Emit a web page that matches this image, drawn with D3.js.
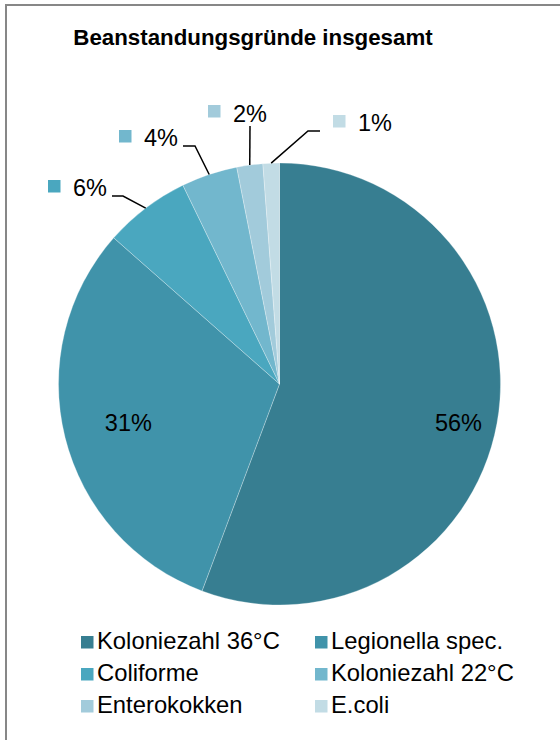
<!DOCTYPE html>
<html>
<head>
<meta charset="utf-8">
<script src="https://cdn.jsdelivr.net/npm/d3@7/dist/d3.min.js"></script>
<style>
  html, body { margin: 0; padding: 0; background: #fff; }
  svg { display: block; font-family: "Liberation Sans", Arial, sans-serif; }
</style>
</head>
<body>
<svg id="chart" width="560" height="740"></svg>
<script>
// ---- data ----
const categories = ["Koloniezahl 36°C", "Legionella spec.", "Coliforme", "Koloniezahl 22°C", "Enterokokken", "E.coli"];
const values = [55.7, 30.8, 6.3, 4.1, 1.9, 1.2];
const labels = ["56%", "31%", "6%", "4%", "2%", "1%"];
const colors = ["#377E91", "#4093AA", "#4AA7BF", "#72B7CD", "#A2CBDB", "#C2DCE5"];
const title = "Beanstandungsgründe insgesamt";

// ---- layout ----
const W = 560, H = 740;
const cx = 279.5, cy = 384, R = 221;

const svg = d3.select("#chart");

// frame
svg.append("rect")
  .attr("x", 6).attr("y", 5)
  .attr("width", W).attr("height", H)
  .attr("fill", "#fff")
  .attr("stroke", "#878787").attr("stroke-width", 2);

// title
svg.append("text")
  .attr("x", 253).attr("y", 45)
  .attr("text-anchor", "middle")
  .attr("font-size", 22.3).attr("font-weight", "bold")
  .attr("fill", "#000")
  .text(title);

const pie = d3.pie().sort(null).value(d => d)(values);
const arc = d3.arc().innerRadius(0).outerRadius(R);

const g = svg.append("g").attr("transform", `translate(${cx},${cy})`);

g.selectAll("path.slice")
  .data(pie)
  .join("path")
  .attr("class", "slice")
  .attr("d", arc)
  .attr("fill", (d, i) => colors[i])
  .attr("stroke", "#ffffff")
  .attr("stroke-opacity", 0.35)
  .attr("stroke-width", 0.8);

// inside labels (first two slices): radius fraction + vertical tweak
const insideLayout = [
  { i: 0, rf: 0.823, dy: 6.5 },
  { i: 1, rf: 0.705, dy: 1 }
];
insideLayout.forEach(L => {
  const d = pie[L.i];
  const a = (d.startAngle + d.endAngle) / 2;
  const rr = R * L.rf;
  g.append("text")
    .attr("x", rr * Math.sin(a))
    .attr("y", -rr * Math.cos(a) + L.dy)
    .attr("text-anchor", "middle")
    .attr("dominant-baseline", "central")
    .attr("font-size", 23.5)
    .attr("fill", "#000")
    .text(labels[L.i]);
});

// outside labels with leader lines: elbow / end / label anchor offsets (page coords)
const outsideLayout = [
  { i: 2, elbow: [123, 196], end: [112, 196], key: [48, 180], textX: 73, base: 196 },
  { i: 3, elbow: [195, 146], end: [183, 146], key: [119, 130], textX: 144, base: 146 },
  { i: 4, elbow: null, end: [250, 126], key: [208, 105], textX: 233, base: 122 },
  { i: 5, elbow: [308, 131], end: [320, 131], key: [333, 115], textX: 358, base: 131 }
];
outsideLayout.forEach(L => {
  const d = pie[L.i];
  const a = (d.startAngle + d.endAngle) / 2;
  const sx = cx + R * Math.sin(a), sy = cy - R * Math.cos(a);
  const pts = [[sx, sy]];
  if (L.elbow) pts.push(L.elbow);
  pts.push(L.end);
  svg.append("path")
    .attr("d", d3.line()(pts))
    .attr("fill", "none")
    .attr("stroke", "#000")
    .attr("stroke-width", 1.5);
  svg.append("rect")
    .attr("x", L.key[0]).attr("y", L.key[1])
    .attr("width", 12.5).attr("height", 12.5)
    .attr("fill", colors[L.i]);
  svg.append("text")
    .attr("x", L.textX).attr("y", L.base)
    .attr("font-size", 23.5)
    .attr("fill", "#000")
    .text(labels[L.i]);
});

// legend
const legX = [81, 315], legY = [649, 681, 713];
categories.forEach((c, i) => {
  const col = i % 2, row = Math.floor(i / 2);
  const lg = svg.append("g");
  lg.append("rect")
    .attr("x", legX[col]).attr("y", legY[row] - 13)
    .attr("width", 12.5).attr("height", 12.5)
    .attr("fill", colors[i]);
  lg.append("text")
    .attr("x", legX[col] + 16).attr("y", legY[row])
    .attr("font-size", 23.8)
    .attr("fill", "#000")
    .text(c);
});
</script>
</body>
</html>
